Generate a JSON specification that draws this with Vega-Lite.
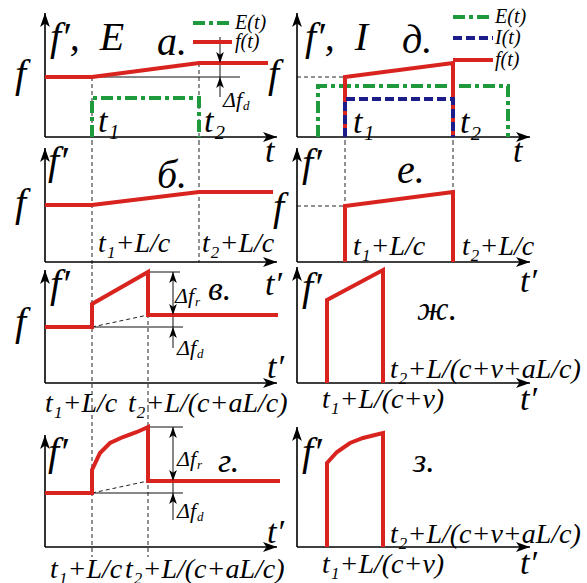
{
"$schema":"https://vega.github.io/schema/vega-lite/v6.json",
"padding":0,"background":"white","spacing":0,"bounds":"flush","align":"each","columns":2,
"config":{"view":{"stroke":null},"text":{"font":"Liberation Serif"}},
"concat":[
{"width":290,"height":141,
"data":{"values":[
{"s":"axis","x":0,"y":0,"x2":0,"y2":124},{"s":"axis","x":0,"y":0,"x2":232,"y2":0},
{"s":"up","x":0,"y":124},{"s":"right","x":232,"y":0},
{"s":"guide","x":47,"y":60,"x2":47,"y2":-4},{"s":"guide","x":154,"y":74,"x2":154,"y2":-4},
{"s":"ref","x":47,"y":60,"x2":195,"y2":60},{"s":"ref","x":175,"y":100,"x2":175,"y2":40},
{"s":"adown","x":175,"y":74},{"s":"aup","x":175,"y":60},
{"s":"f(t)","g":1,"i":1,"x":0,"y":60},{"s":"f(t)","g":1,"i":2,"x":47,"y":60},{"s":"f(t)","g":1,"i":3,"x":154,"y":74},{"s":"f(t)","g":1,"i":4,"x":223,"y":74},
{"s":"f(t)","g":2,"i":1,"x":148,"y":95},{"s":"f(t)","g":2,"i":2,"x":187,"y":95},
{"s":"E(t)","g":1,"i":1,"x":47,"y":0},{"s":"E(t)","g":1,"i":2,"x":47,"y":39},{"s":"E(t)","g":1,"i":3,"x":154,"y":39},{"s":"E(t)","g":1,"i":4,"x":154,"y":0},
{"s":"E(t)","g":2,"i":1,"x":148,"y":114},{"s":"E(t)","g":2,"i":2,"x":188,"y":114},
{"s":"big","x":5,"y":87,"text":"f′,\u00a0\u00a0E"},{"s":"big","x":112,"y":82,"text":"а."},{"s":"big","x":-30,"y":50,"text":"f"},
{"s":"mid","x":53,"y":5,"text":"t₁"},{"s":"mid","x":159,"y":5,"text":"t₂"},{"s":"mid","x":220,"y":-25,"text":"t"},
{"s":"leg","x":190,"y":114,"text":"E(t)"},{"s":"leg","x":190,"y":95,"text":"f(t)"},
{"s":"delta","x":178,"y":30,"text":"Δf"},{"s":"sub","x":198,"y":27,"text":"d"}
]},
"encoding":{"x":{"field":"x","type":"quantitative","scale":{"domain":[-45,245],"nice":false,"zero":false},"axis":null},
"y":{"field":"y","type":"quantitative","scale":{"domain":[-4,137],"nice":false,"zero":false},"axis":null}},
"layer":[
{"mark":{"type":"rule","strokeDash":[4,3],"strokeWidth":1,"color":"#222"},"transform":[{"filter":"datum.s==='guide'"}],"encoding":{"x2":{"field":"x2"},"y2":{"field":"y2"}}},
{"mark":{"type":"rule","strokeWidth":1,"color":"#111"},"transform":[{"filter":"datum.s==='ref'"}],"encoding":{"x2":{"field":"x2"},"y2":{"field":"y2"}}},
{"mark":{"type":"rule","strokeWidth":1.6,"color":"#000"},"transform":[{"filter":"datum.s==='axis'"}],"encoding":{"x2":{"field":"x2"},"y2":{"field":"y2"}}},
{"mark":{"type":"line","color":"#1e9a3c","strokeWidth":4,"strokeDash":[12,4,4,4],"strokeCap":"butt","strokeJoin":"miter"},"transform":[{"filter":"datum.s==='E(t)'"}],"encoding":{"detail":{"field":"g","type":"nominal"},"order":{"field":"i","type":"quantitative"}}},
{"mark":{"type":"line","color":"#d8231f","strokeWidth":4,"strokeCap":"butt","strokeJoin":"miter"},"transform":[{"filter":"datum.s==='f(t)'"}],"encoding":{"detail":{"field":"g","type":"nominal"},"order":{"field":"i","type":"quantitative"}}},
{"mark":{"type":"point","shape":"M0,0L0.7,2L0,1.5L-0.7,2Z","filled":true,"color":"#000","opacity":1,"size":196,"strokeWidth":0},"transform":[{"filter":"datum.s==='up'"}]},
{"mark":{"type":"point","shape":"M0,0L-2,-0.7L-1.5,0L-2,0.7Z","filled":true,"color":"#000","opacity":1,"size":196,"strokeWidth":0},"transform":[{"filter":"datum.s==='right'"}]},
{"mark":{"type":"point","shape":"M0,0L0.7,2L0,1.5L-0.7,2Z","filled":true,"color":"#000","opacity":1,"size":121,"strokeWidth":0},"transform":[{"filter":"datum.s==='aup'"}]},
{"mark":{"type":"point","shape":"M0,0L-0.7,-2L0,-1.5L0.7,-2Z","filled":true,"color":"#000","opacity":1,"size":121,"strokeWidth":0},"transform":[{"filter":"datum.s==='adown'"}]},
{"mark":{"type":"text","fontStyle":"italic","fontSize":40,"align":"left","baseline":"alphabetic","color":"#000"},"transform":[{"filter":"datum.s==='big'"}],"encoding":{"text":{"field":"text"}}},
{"mark":{"type":"text","fontStyle":"italic","fontSize":34,"align":"left","baseline":"alphabetic","color":"#000"},"transform":[{"filter":"datum.s==='mid'"}],"encoding":{"text":{"field":"text"}}},
{"mark":{"type":"text","fontStyle":"italic","fontSize":20,"align":"left","baseline":"middle","color":"#000"},"transform":[{"filter":"datum.s==='leg'"}],"encoding":{"text":{"field":"text"}}},
{"mark":{"type":"text","fontStyle":"italic","fontSize":22,"align":"left","baseline":"alphabetic","color":"#000"},"transform":[{"filter":"datum.s==='delta'"}],"encoding":{"text":{"field":"text"}}},
{"mark":{"type":"text","fontStyle":"italic","fontSize":13,"align":"left","baseline":"alphabetic","color":"#000"},"transform":[{"filter":"datum.s==='sub'"}],"encoding":{"text":{"field":"text"}}}
]},
{"width":297,"height":141,
"data":{"values":[
{"s":"axis","x":0,"y":0,"x2":0,"y2":124},{"s":"axis","x":0,"y":0,"x2":233,"y2":0},
{"s":"up","x":0,"y":124},{"s":"right","x":233,"y":0},
{"s":"guide","x":0,"y":60,"x2":48,"y2":60},{"s":"guide","x":48,"y":60,"x2":48,"y2":-4},{"s":"guide","x":156,"y":74,"x2":156,"y2":-4},
{"s":"E(t)","g":1,"i":1,"x":21,"y":0},{"s":"E(t)","g":1,"i":2,"x":21,"y":51},{"s":"E(t)","g":1,"i":3,"x":211,"y":51},{"s":"E(t)","g":1,"i":4,"x":211,"y":0},
{"s":"E(t)","g":2,"i":1,"x":156,"y":120},{"s":"E(t)","g":2,"i":2,"x":196,"y":120},
{"s":"f(t)","g":1,"i":1,"x":48,"y":0},{"s":"f(t)","g":1,"i":2,"x":48,"y":60},{"s":"f(t)","g":1,"i":3,"x":156,"y":74},{"s":"f(t)","g":1,"i":4,"x":156,"y":0},
{"s":"f(t)","g":2,"i":1,"x":156,"y":77},{"s":"f(t)","g":2,"i":2,"x":196,"y":77},
{"s":"I(t)","g":1,"i":1,"x":48,"y":0},{"s":"I(t)","g":1,"i":2,"x":48,"y":38},{"s":"I(t)","g":1,"i":3,"x":156,"y":38},{"s":"I(t)","g":1,"i":4,"x":156,"y":0},
{"s":"I(t)","g":2,"i":1,"x":156,"y":99},{"s":"I(t)","g":2,"i":2,"x":196,"y":99},
{"s":"big","x":8,"y":87,"text":"f′,\u00a0\u00a0I"},{"s":"big","x":105,"y":84,"text":"д."},{"s":"big","x":-29,"y":50,"text":"f"},
{"s":"mid","x":56,"y":4,"text":"t₁"},{"s":"mid","x":163,"y":4,"text":"t₂"},{"s":"mid","x":216,"y":-25,"text":"t"},
{"s":"leg","x":198,"y":120,"text":"E(t)"},{"s":"leg","x":198,"y":99,"text":"I(t)"},{"s":"leg","x":198,"y":77,"text":"f(t)"}
]},
"encoding":{"x":{"field":"x","type":"quantitative","scale":{"domain":[-7,290],"nice":false,"zero":false},"axis":null},
"y":{"field":"y","type":"quantitative","scale":{"domain":[-4,137],"nice":false,"zero":false},"axis":null}},
"layer":[
{"mark":{"type":"rule","strokeDash":[4,3],"strokeWidth":1,"color":"#222"},"transform":[{"filter":"datum.s==='guide'"}],"encoding":{"x2":{"field":"x2"},"y2":{"field":"y2"}}},
{"mark":{"type":"rule","strokeWidth":1.6,"color":"#000"},"transform":[{"filter":"datum.s==='axis'"}],"encoding":{"x2":{"field":"x2"},"y2":{"field":"y2"}}},
{"mark":{"type":"line","color":"#1e9a3c","strokeWidth":4,"strokeDash":[12,4,4,4],"strokeCap":"butt","strokeJoin":"miter"},"transform":[{"filter":"datum.s==='E(t)'"}],"encoding":{"detail":{"field":"g","type":"nominal"},"order":{"field":"i","type":"quantitative"}}},
{"mark":{"type":"line","color":"#d8231f","strokeWidth":4,"strokeCap":"butt","strokeJoin":"miter"},"transform":[{"filter":"datum.s==='f(t)'"}],"encoding":{"detail":{"field":"g","type":"nominal"},"order":{"field":"i","type":"quantitative"}}},
{"mark":{"type":"line","color":"#1c1c8a","strokeWidth":4,"strokeDash":[9,4],"strokeCap":"butt","strokeJoin":"miter"},"transform":[{"filter":"datum.s==='I(t)'"}],"encoding":{"detail":{"field":"g","type":"nominal"},"order":{"field":"i","type":"quantitative"}}},
{"mark":{"type":"point","shape":"M0,0L0.7,2L0,1.5L-0.7,2Z","filled":true,"color":"#000","opacity":1,"size":196,"strokeWidth":0},"transform":[{"filter":"datum.s==='up'"}]},
{"mark":{"type":"point","shape":"M0,0L-2,-0.7L-1.5,0L-2,0.7Z","filled":true,"color":"#000","opacity":1,"size":196,"strokeWidth":0},"transform":[{"filter":"datum.s==='right'"}]},
{"mark":{"type":"text","fontStyle":"italic","fontSize":40,"align":"left","baseline":"alphabetic","color":"#000"},"transform":[{"filter":"datum.s==='big'"}],"encoding":{"text":{"field":"text"}}},
{"mark":{"type":"text","fontStyle":"italic","fontSize":34,"align":"left","baseline":"alphabetic","color":"#000"},"transform":[{"filter":"datum.s==='mid'"}],"encoding":{"text":{"field":"text"}}},
{"mark":{"type":"text","fontStyle":"italic","fontSize":20,"align":"left","baseline":"middle","color":"#000"},"transform":[{"filter":"datum.s==='leg'"}],"encoding":{"text":{"field":"text"}}}
]},
{"width":290,"height":124,
"data":{"values":[
{"s":"axis","x":0,"y":0,"x2":0,"y2":114},{"s":"axis","x":0,"y":0,"x2":232,"y2":0},
{"s":"up","x":0,"y":114},{"s":"right","x":232,"y":0},
{"s":"guide","x":47,"y":121,"x2":47,"y2":-3},{"s":"guide","x":154,"y":121,"x2":154,"y2":0},
{"s":"f(t)","g":1,"i":1,"x":0,"y":57},{"s":"f(t)","g":1,"i":2,"x":47,"y":57},{"s":"f(t)","g":1,"i":3,"x":154,"y":70},{"s":"f(t)","g":1,"i":4,"x":228,"y":70},
{"s":"big","x":3,"y":88,"text":"f′"},{"s":"big","x":112,"y":74,"text":"б."},{"s":"big","x":-30,"y":46,"text":"f"},
{"s":"lab","x":53,"y":10,"text":"t₁+L/c"},{"s":"lab","x":157,"y":10,"text":"t₂+L/c"},{"s":"mid","x":220,"y":-33,"text":"t′"}
]},
"encoding":{"x":{"field":"x","type":"quantitative","scale":{"domain":[-45,245],"nice":false,"zero":false},"axis":null},
"y":{"field":"y","type":"quantitative","scale":{"domain":[-3,121],"nice":false,"zero":false},"axis":null}},
"layer":[
{"mark":{"type":"rule","strokeDash":[4,3],"strokeWidth":1,"color":"#222"},"transform":[{"filter":"datum.s==='guide'"}],"encoding":{"x2":{"field":"x2"},"y2":{"field":"y2"}}},
{"mark":{"type":"rule","strokeWidth":1.6,"color":"#000"},"transform":[{"filter":"datum.s==='axis'"}],"encoding":{"x2":{"field":"x2"},"y2":{"field":"y2"}}},
{"mark":{"type":"line","color":"#d8231f","strokeWidth":4,"strokeCap":"butt","strokeJoin":"miter"},"transform":[{"filter":"datum.s==='f(t)'"}],"encoding":{"detail":{"field":"g","type":"nominal"},"order":{"field":"i","type":"quantitative"}}},
{"mark":{"type":"point","shape":"M0,0L0.7,2L0,1.5L-0.7,2Z","filled":true,"color":"#000","opacity":1,"size":196,"strokeWidth":0},"transform":[{"filter":"datum.s==='up'"}]},
{"mark":{"type":"point","shape":"M0,0L-2,-0.7L-1.5,0L-2,0.7Z","filled":true,"color":"#000","opacity":1,"size":196,"strokeWidth":0},"transform":[{"filter":"datum.s==='right'"}]},
{"mark":{"type":"text","fontStyle":"italic","fontSize":40,"align":"left","baseline":"alphabetic","color":"#000"},"transform":[{"filter":"datum.s==='big'"}],"encoding":{"text":{"field":"text"}}},
{"mark":{"type":"text","fontStyle":"italic","fontSize":34,"align":"left","baseline":"alphabetic","color":"#000"},"transform":[{"filter":"datum.s==='mid'"}],"encoding":{"text":{"field":"text"}}},
{"mark":{"type":"text","fontStyle":"italic","fontSize":28,"align":"left","baseline":"alphabetic","color":"#000"},"transform":[{"filter":"datum.s==='lab'"}],"encoding":{"text":{"field":"text"}}}
]},
{"width":297,"height":124,
"data":{"values":[
{"s":"axis","x":0,"y":0,"x2":0,"y2":114},{"s":"axis","x":0,"y":0,"x2":233,"y2":0},
{"s":"up","x":0,"y":114},{"s":"right","x":233,"y":0},
{"s":"guide","x":0,"y":56,"x2":48,"y2":56},{"s":"guide","x":48,"y":121,"x2":48,"y2":56},{"s":"guide","x":156,"y":121,"x2":156,"y2":70},
{"s":"f(t)","g":1,"i":1,"x":48,"y":0},{"s":"f(t)","g":1,"i":2,"x":48,"y":56},{"s":"f(t)","g":1,"i":3,"x":156,"y":70},{"s":"f(t)","g":1,"i":4,"x":156,"y":0},
{"s":"big","x":5,"y":86,"text":"f′"},{"s":"big","x":100,"y":79,"text":"е."},{"s":"big","x":-24,"y":42,"text":"f"},
{"s":"lab","x":56,"y":7,"text":"t₁+L/c"},{"s":"lab","x":165,"y":7,"text":"t₂+L/c"},{"s":"mid","x":223,"y":-30,"text":"t′"}
]},
"encoding":{"x":{"field":"x","type":"quantitative","scale":{"domain":[-7,290],"nice":false,"zero":false},"axis":null},
"y":{"field":"y","type":"quantitative","scale":{"domain":[-3,121],"nice":false,"zero":false},"axis":null}},
"layer":[
{"mark":{"type":"rule","strokeDash":[4,3],"strokeWidth":1,"color":"#222"},"transform":[{"filter":"datum.s==='guide'"}],"encoding":{"x2":{"field":"x2"},"y2":{"field":"y2"}}},
{"mark":{"type":"rule","strokeWidth":1.6,"color":"#000"},"transform":[{"filter":"datum.s==='axis'"}],"encoding":{"x2":{"field":"x2"},"y2":{"field":"y2"}}},
{"mark":{"type":"line","color":"#d8231f","strokeWidth":4,"strokeCap":"butt","strokeJoin":"miter"},"transform":[{"filter":"datum.s==='f(t)'"}],"encoding":{"detail":{"field":"g","type":"nominal"},"order":{"field":"i","type":"quantitative"}}},
{"mark":{"type":"point","shape":"M0,0L0.7,2L0,1.5L-0.7,2Z","filled":true,"color":"#000","opacity":1,"size":196,"strokeWidth":0},"transform":[{"filter":"datum.s==='up'"}]},
{"mark":{"type":"point","shape":"M0,0L-2,-0.7L-1.5,0L-2,0.7Z","filled":true,"color":"#000","opacity":1,"size":196,"strokeWidth":0},"transform":[{"filter":"datum.s==='right'"}]},
{"mark":{"type":"text","fontStyle":"italic","fontSize":40,"align":"left","baseline":"alphabetic","color":"#000"},"transform":[{"filter":"datum.s==='big'"}],"encoding":{"text":{"field":"text"}}},
{"mark":{"type":"text","fontStyle":"italic","fontSize":34,"align":"left","baseline":"alphabetic","color":"#000"},"transform":[{"filter":"datum.s==='mid'"}],"encoding":{"text":{"field":"text"}}},
{"mark":{"type":"text","fontStyle":"italic","fontSize":28,"align":"left","baseline":"alphabetic","color":"#000"},"transform":[{"filter":"datum.s==='lab'"}],"encoding":{"text":{"field":"text"}}}
]},
{"width":290,"height":143,
"data":{"values":[
{"s":"axis","x":0,"y":0,"x2":0,"y2":113},{"s":"axis","x":0,"y":0,"x2":232,"y2":0},
{"s":"up","x":0,"y":113},{"s":"right","x":232,"y":0},
{"s":"guide","x":47,"y":118,"x2":47,"y2":-25},{"s":"guide","x":103,"y":111,"x2":103,"y2":-25},{"s":"guide","x":47,"y":56,"x2":103,"y2":68},
{"s":"ref","x":47,"y":56,"x2":138,"y2":56},{"s":"ref","x":103,"y":111,"x2":135,"y2":111},{"s":"ref","x":128,"y":111,"x2":128,"y2":35},
{"s":"aup","x":128,"y":111},{"s":"adown","x":128,"y":68},{"s":"aup","x":128,"y":56},
{"s":"f(t)","g":1,"i":1,"x":0,"y":56},{"s":"f(t)","g":1,"i":2,"x":47,"y":56},{"s":"f(t)","g":1,"i":3,"x":47,"y":79},{"s":"f(t)","g":1,"i":4,"x":103,"y":111},{"s":"f(t)","g":1,"i":5,"x":103,"y":68},{"s":"f(t)","g":1,"i":6,"x":233,"y":68},
{"s":"delta","x":130,"y":80,"text":"Δf"},{"s":"sub","x":150,"y":77,"text":"r"},{"s":"mid","x":163,"y":83,"text":"в."},
{"s":"delta","x":132,"y":28,"text":"Δf"},{"s":"sub","x":152,"y":25,"text":"d"},
{"s":"big","x":5,"y":86,"text":"f′"},{"s":"big","x":-30,"y":48,"text":"f"},{"s":"mid","x":222,"y":5,"text":"t′"},
{"s":"lab","x":0,"y":-29,"text":"t₁+L/c"},{"s":"lab","x":83,"y":-29,"text":"t₂+L/(c+aL/c)"}
]},
"encoding":{"x":{"field":"x","type":"quantitative","scale":{"domain":[-45,245],"nice":false,"zero":false},"axis":null},
"y":{"field":"y","type":"quantitative","scale":{"domain":[-25,118],"nice":false,"zero":false},"axis":null}},
"layer":[
{"mark":{"type":"rule","strokeDash":[4,3],"strokeWidth":1,"color":"#222"},"transform":[{"filter":"datum.s==='guide'"}],"encoding":{"x2":{"field":"x2"},"y2":{"field":"y2"}}},
{"mark":{"type":"rule","strokeWidth":1,"color":"#111"},"transform":[{"filter":"datum.s==='ref'"}],"encoding":{"x2":{"field":"x2"},"y2":{"field":"y2"}}},
{"mark":{"type":"rule","strokeWidth":1.6,"color":"#000"},"transform":[{"filter":"datum.s==='axis'"}],"encoding":{"x2":{"field":"x2"},"y2":{"field":"y2"}}},
{"mark":{"type":"line","color":"#d8231f","strokeWidth":4,"strokeCap":"butt","strokeJoin":"miter"},"transform":[{"filter":"datum.s==='f(t)'"}],"encoding":{"detail":{"field":"g","type":"nominal"},"order":{"field":"i","type":"quantitative"}}},
{"mark":{"type":"point","shape":"M0,0L0.7,2L0,1.5L-0.7,2Z","filled":true,"color":"#000","opacity":1,"size":196,"strokeWidth":0},"transform":[{"filter":"datum.s==='up'"}]},
{"mark":{"type":"point","shape":"M0,0L-2,-0.7L-1.5,0L-2,0.7Z","filled":true,"color":"#000","opacity":1,"size":196,"strokeWidth":0},"transform":[{"filter":"datum.s==='right'"}]},
{"mark":{"type":"point","shape":"M0,0L0.7,2L0,1.5L-0.7,2Z","filled":true,"color":"#000","opacity":1,"size":121,"strokeWidth":0},"transform":[{"filter":"datum.s==='aup'"}]},
{"mark":{"type":"point","shape":"M0,0L-0.7,-2L0,-1.5L0.7,-2Z","filled":true,"color":"#000","opacity":1,"size":121,"strokeWidth":0},"transform":[{"filter":"datum.s==='adown'"}]},
{"mark":{"type":"text","fontStyle":"italic","fontSize":40,"align":"left","baseline":"alphabetic","color":"#000"},"transform":[{"filter":"datum.s==='big'"}],"encoding":{"text":{"field":"text"}}},
{"mark":{"type":"text","fontStyle":"italic","fontSize":34,"align":"left","baseline":"alphabetic","color":"#000"},"transform":[{"filter":"datum.s==='mid'"}],"encoding":{"text":{"field":"text"}}},
{"mark":{"type":"text","fontStyle":"italic","fontSize":28,"align":"left","baseline":"alphabetic","color":"#000"},"transform":[{"filter":"datum.s==='lab'"}],"encoding":{"text":{"field":"text"}}},
{"mark":{"type":"text","fontStyle":"italic","fontSize":22,"align":"left","baseline":"alphabetic","color":"#000"},"transform":[{"filter":"datum.s==='delta'"}],"encoding":{"text":{"field":"text"}}},
{"mark":{"type":"text","fontStyle":"italic","fontSize":13,"align":"left","baseline":"alphabetic","color":"#000"},"transform":[{"filter":"datum.s==='sub'"}],"encoding":{"text":{"field":"text"}}}
]},
{"width":297,"height":143,
"data":{"values":[
{"s":"axis","x":0,"y":0,"x2":0,"y2":116},{"s":"axis","x":0,"y":0,"x2":233,"y2":0},
{"s":"up","x":0,"y":116},{"s":"right","x":233,"y":0},
{"s":"f(t)","g":1,"i":1,"x":30,"y":0},{"s":"f(t)","g":1,"i":2,"x":30,"y":83},{"s":"f(t)","g":1,"i":3,"x":86,"y":113},{"s":"f(t)","g":1,"i":4,"x":86,"y":0},
{"s":"big","x":5,"y":83,"text":"f′"},{"s":"mid","x":120,"y":63,"text":"ж."},
{"s":"lab","x":93,"y":5,"text":"t₂+L/(c+v+aL/c)"},{"s":"lab","x":25,"y":-25,"text":"t₁+L/(c+v)"},{"s":"mid","x":223,"y":-27,"text":"t′"}
]},
"encoding":{"x":{"field":"x","type":"quantitative","scale":{"domain":[-7,290],"nice":false,"zero":false},"axis":null},
"y":{"field":"y","type":"quantitative","scale":{"domain":[-25,118],"nice":false,"zero":false},"axis":null}},
"layer":[
{"mark":{"type":"rule","strokeWidth":1.6,"color":"#000"},"transform":[{"filter":"datum.s==='axis'"}],"encoding":{"x2":{"field":"x2"},"y2":{"field":"y2"}}},
{"mark":{"type":"line","color":"#d8231f","strokeWidth":4,"strokeCap":"butt","strokeJoin":"miter"},"transform":[{"filter":"datum.s==='f(t)'"}],"encoding":{"detail":{"field":"g","type":"nominal"},"order":{"field":"i","type":"quantitative"}}},
{"mark":{"type":"point","shape":"M0,0L0.7,2L0,1.5L-0.7,2Z","filled":true,"color":"#000","opacity":1,"size":196,"strokeWidth":0},"transform":[{"filter":"datum.s==='up'"}]},
{"mark":{"type":"point","shape":"M0,0L-2,-0.7L-1.5,0L-2,0.7Z","filled":true,"color":"#000","opacity":1,"size":196,"strokeWidth":0},"transform":[{"filter":"datum.s==='right'"}]},
{"mark":{"type":"text","fontStyle":"italic","fontSize":40,"align":"left","baseline":"alphabetic","color":"#000"},"transform":[{"filter":"datum.s==='big'"}],"encoding":{"text":{"field":"text"}}},
{"mark":{"type":"text","fontStyle":"italic","fontSize":34,"align":"left","baseline":"alphabetic","color":"#000"},"transform":[{"filter":"datum.s==='mid'"}],"encoding":{"text":{"field":"text"}}},
{"mark":{"type":"text","fontStyle":"italic","fontSize":28,"align":"left","baseline":"alphabetic","color":"#000"},"transform":[{"filter":"datum.s==='lab'"}],"encoding":{"text":{"field":"text"}}}
]},
{"width":290,"height":175,
"data":{"values":[
{"s":"axis","x":0,"y":0,"x2":0,"y2":112},{"s":"axis","x":0,"y":0,"x2":232,"y2":0},
{"s":"up","x":0,"y":112},{"s":"right","x":232,"y":0},
{"s":"guide","x":47,"y":139,"x2":47,"y2":-10},{"s":"guide","x":103,"y":139,"x2":103,"y2":-10},{"s":"guide","x":47,"y":54,"x2":103,"y2":66},
{"s":"ref","x":47,"y":54,"x2":138,"y2":54},{"s":"ref","x":103,"y":120,"x2":138,"y2":120},{"s":"ref","x":128,"y":120,"x2":128,"y2":27},
{"s":"aup","x":128,"y":120},{"s":"adown","x":128,"y":66},{"s":"aup","x":128,"y":54},
{"s":"f(t)","g":1,"i":1,"x":0,"y":54},{"s":"f(t)","g":1,"i":2,"x":47,"y":54},{"s":"f(t)","g":1,"i":3,"x":47,"y":77},{"s":"f(t)","g":1,"i":4,"x":55,"y":94},{"s":"f(t)","g":1,"i":5,"x":65,"y":104},{"s":"f(t)","g":1,"i":6,"x":78,"y":110},{"s":"f(t)","g":1,"i":7,"x":92,"y":115},{"s":"f(t)","g":1,"i":8,"x":103,"y":120},{"s":"f(t)","g":1,"i":9,"x":103,"y":66},{"s":"f(t)","g":1,"i":10,"x":235,"y":66},
{"s":"delta","x":132,"y":81,"text":"Δf"},{"s":"sub","x":152,"y":78,"text":"r"},{"s":"mid","x":173,"y":75,"text":"г."},
{"s":"delta","x":132,"y":29,"text":"Δf"},{"s":"sub","x":152,"y":26,"text":"d"},
{"s":"big","x":3,"y":82,"text":"f′"},{"s":"mid","x":222,"y":4,"text":"t′"},
{"s":"lab","x":5,"y":-31,"text":"t₁+L/c"},{"s":"lab","x":80,"y":-31,"text":"t₂+L/(c+aL/c)"}
]},
"encoding":{"x":{"field":"x","type":"quantitative","scale":{"domain":[-45,245],"nice":false,"zero":false},"axis":null},
"y":{"field":"y","type":"quantitative","scale":{"domain":[-36,139],"nice":false,"zero":false},"axis":null}},
"layer":[
{"mark":{"type":"rule","strokeDash":[4,3],"strokeWidth":1,"color":"#222"},"transform":[{"filter":"datum.s==='guide'"}],"encoding":{"x2":{"field":"x2"},"y2":{"field":"y2"}}},
{"mark":{"type":"rule","strokeWidth":1,"color":"#111"},"transform":[{"filter":"datum.s==='ref'"}],"encoding":{"x2":{"field":"x2"},"y2":{"field":"y2"}}},
{"mark":{"type":"rule","strokeWidth":1.6,"color":"#000"},"transform":[{"filter":"datum.s==='axis'"}],"encoding":{"x2":{"field":"x2"},"y2":{"field":"y2"}}},
{"mark":{"type":"line","color":"#d8231f","strokeWidth":4,"strokeCap":"butt","strokeJoin":"miter"},"transform":[{"filter":"datum.s==='f(t)'"}],"encoding":{"detail":{"field":"g","type":"nominal"},"order":{"field":"i","type":"quantitative"}}},
{"mark":{"type":"point","shape":"M0,0L0.7,2L0,1.5L-0.7,2Z","filled":true,"color":"#000","opacity":1,"size":196,"strokeWidth":0},"transform":[{"filter":"datum.s==='up'"}]},
{"mark":{"type":"point","shape":"M0,0L-2,-0.7L-1.5,0L-2,0.7Z","filled":true,"color":"#000","opacity":1,"size":196,"strokeWidth":0},"transform":[{"filter":"datum.s==='right'"}]},
{"mark":{"type":"point","shape":"M0,0L0.7,2L0,1.5L-0.7,2Z","filled":true,"color":"#000","opacity":1,"size":121,"strokeWidth":0},"transform":[{"filter":"datum.s==='aup'"}]},
{"mark":{"type":"point","shape":"M0,0L-0.7,-2L0,-1.5L0.7,-2Z","filled":true,"color":"#000","opacity":1,"size":121,"strokeWidth":0},"transform":[{"filter":"datum.s==='adown'"}]},
{"mark":{"type":"text","fontStyle":"italic","fontSize":40,"align":"left","baseline":"alphabetic","color":"#000"},"transform":[{"filter":"datum.s==='big'"}],"encoding":{"text":{"field":"text"}}},
{"mark":{"type":"text","fontStyle":"italic","fontSize":34,"align":"left","baseline":"alphabetic","color":"#000"},"transform":[{"filter":"datum.s==='mid'"}],"encoding":{"text":{"field":"text"}}},
{"mark":{"type":"text","fontStyle":"italic","fontSize":28,"align":"left","baseline":"alphabetic","color":"#000"},"transform":[{"filter":"datum.s==='lab'"}],"encoding":{"text":{"field":"text"}}},
{"mark":{"type":"text","fontStyle":"italic","fontSize":22,"align":"left","baseline":"alphabetic","color":"#000"},"transform":[{"filter":"datum.s==='delta'"}],"encoding":{"text":{"field":"text"}}},
{"mark":{"type":"text","fontStyle":"italic","fontSize":13,"align":"left","baseline":"alphabetic","color":"#000"},"transform":[{"filter":"datum.s==='sub'"}],"encoding":{"text":{"field":"text"}}}
]},
{"width":297,"height":175,
"data":{"values":[
{"s":"axis","x":0,"y":0,"x2":0,"y2":120},{"s":"axis","x":0,"y":0,"x2":233,"y2":0},
{"s":"up","x":0,"y":120},{"s":"right","x":233,"y":0},
{"s":"f(t)","g":1,"i":1,"x":30,"y":0},{"s":"f(t)","g":1,"i":2,"x":30,"y":84},{"s":"f(t)","g":1,"i":3,"x":40,"y":95},{"s":"f(t)","g":1,"i":4,"x":53,"y":104},{"s":"f(t)","g":1,"i":5,"x":66,"y":109},{"s":"f(t)","g":1,"i":6,"x":78,"y":112},{"s":"f(t)","g":1,"i":7,"x":86,"y":114},{"s":"f(t)","g":1,"i":8,"x":86,"y":0},
{"s":"big","x":5,"y":82,"text":"f′"},{"s":"mid","x":116,"y":75,"text":"з."},
{"s":"lab","x":93,"y":4,"text":"t₂+L/(c+v+aL/c)"},{"s":"lab","x":25,"y":-26,"text":"t₁+L/(c+v)"},{"s":"mid","x":223,"y":-27,"text":"t′"}
]},
"encoding":{"x":{"field":"x","type":"quantitative","scale":{"domain":[-7,290],"nice":false,"zero":false},"axis":null},
"y":{"field":"y","type":"quantitative","scale":{"domain":[-36,139],"nice":false,"zero":false},"axis":null}},
"layer":[
{"mark":{"type":"rule","strokeWidth":1.6,"color":"#000"},"transform":[{"filter":"datum.s==='axis'"}],"encoding":{"x2":{"field":"x2"},"y2":{"field":"y2"}}},
{"mark":{"type":"line","color":"#d8231f","strokeWidth":4,"strokeCap":"butt","strokeJoin":"miter"},"transform":[{"filter":"datum.s==='f(t)'"}],"encoding":{"detail":{"field":"g","type":"nominal"},"order":{"field":"i","type":"quantitative"}}},
{"mark":{"type":"point","shape":"M0,0L0.7,2L0,1.5L-0.7,2Z","filled":true,"color":"#000","opacity":1,"size":196,"strokeWidth":0},"transform":[{"filter":"datum.s==='up'"}]},
{"mark":{"type":"point","shape":"M0,0L-2,-0.7L-1.5,0L-2,0.7Z","filled":true,"color":"#000","opacity":1,"size":196,"strokeWidth":0},"transform":[{"filter":"datum.s==='right'"}]},
{"mark":{"type":"text","fontStyle":"italic","fontSize":40,"align":"left","baseline":"alphabetic","color":"#000"},"transform":[{"filter":"datum.s==='big'"}],"encoding":{"text":{"field":"text"}}},
{"mark":{"type":"text","fontStyle":"italic","fontSize":34,"align":"left","baseline":"alphabetic","color":"#000"},"transform":[{"filter":"datum.s==='mid'"}],"encoding":{"text":{"field":"text"}}},
{"mark":{"type":"text","fontStyle":"italic","fontSize":28,"align":"left","baseline":"alphabetic","color":"#000"},"transform":[{"filter":"datum.s==='lab'"}],"encoding":{"text":{"field":"text"}}}
]}
]
}
